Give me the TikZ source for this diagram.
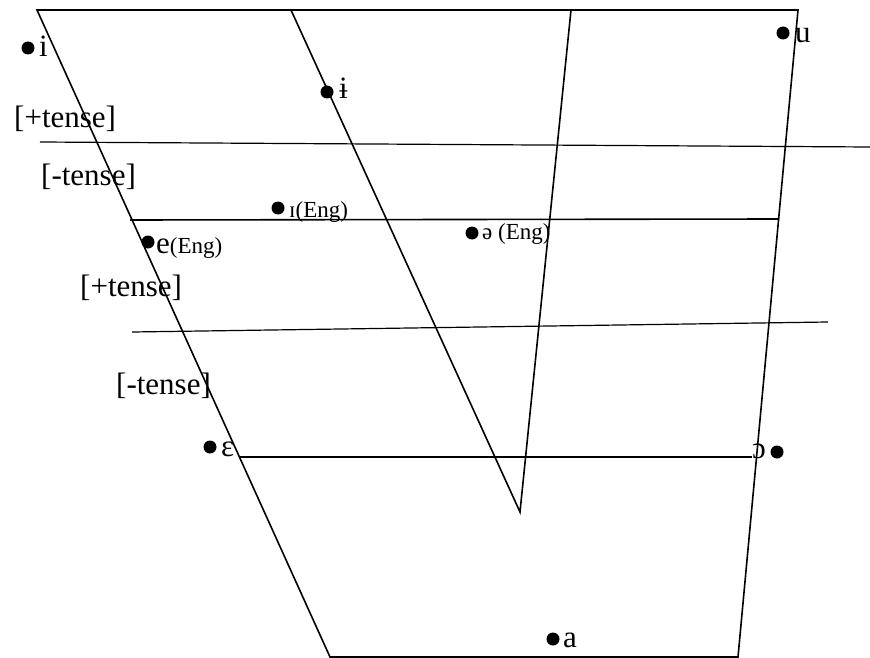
\documentclass[tikz,border=0pt]{standalone}
\usepackage{fontspec}
\setmainfont{Liberation Serif}
\begin{document}
\begin{tikzpicture}[x=1pt,y=-1pt,
  edge/.style={line width=1.6pt},
  thin edge/.style={line width=1.2pt},
  dot/.style={circle,fill=black,inner sep=0pt,minimum size=13pt},
  big/.style={anchor=base west,inner sep=0pt,font=\fontsize{31}{31}\selectfont},
  mid/.style={anchor=base west,inner sep=0pt,font=\fontsize{23}{23}\selectfont},
  sml/.style={anchor=base west,inner sep=0pt,font=\fontsize{23}{23}\selectfont}]
\useasboundingbox (0,0) rectangle (870,658);
% outline
\coordinate (TL) at (37,10);
\coordinate (TR) at (798,10);
\coordinate (BL) at (330,657);
\coordinate (BR) at (738,657);
\coordinate (M1) at (291,10);
\coordinate (M2) at (571,10);
\coordinate (V) at (520,512);
\draw[edge] (TL) -- (TR) -- (BR) -- (BL) -- cycle;
\draw[edge] (M1) -- (V) -- (M2);
% horizontal lines
\coordinate (h1a) at (40,142); \coordinate (h1b) at (870,147);
\coordinate (h2a) at (130,220); \coordinate (h2b) at (779,219);
\coordinate (h3a) at (132,332); \coordinate (h3b) at (828,322);
\coordinate (h4a) at (240,457); \coordinate (h4b) at (752,457);
\draw[thin edge] (h1a) -- (h1b);
\draw[edge] (h2a) -- (h2b);
\draw[thin edge] (h3a) -- (h3b);
\draw[edge] (h4a) -- (h4b);
% vowels
\node[dot] (di) at (28,48) {};
\node[big] (ti) at (39,57) {i};
\node[dot] (du) at (783,33) {};
\node[big] (tu) at (795,43) {u};
\node[dot] (dbi) at (327,92) {};
\node[big] (tbi) at (339,99) {ɨ};
\node[dot] (dI) at (278,208) {};
\node[mid] (tI) at (289,217) {ɪ(Eng)};
\node[dot] (de) at (148,242) {};
\node[big] (te) at (156,253) {e\fontsize{23}{23}\selectfont(Eng)};
\node[dot] (dschwa) at (472,233) {};
\node[sml] (tschwa) at (482,239) {ə (Eng)};
\node[dot] (deps) at (210,447) {};
\node[big] (teps) at (221,456) {ɛ};
\node[big] (topen) at (752,458) {ɔ};
\node[dot] (dopen) at (777,452) {};
\node[dot] (da) at (553,639) {};
\node[big] (ta) at (563,647) {a};
% tense labels
\node[big] (p1) at (14,128) {[+tense]};
\node[big] (m1) at (41,185) {[-tense]};
\node[big] (p2) at (80,296) {[+tense]};
\node[big] (m2) at (116,394) {[-tense]};
\end{tikzpicture}
\end{document}
